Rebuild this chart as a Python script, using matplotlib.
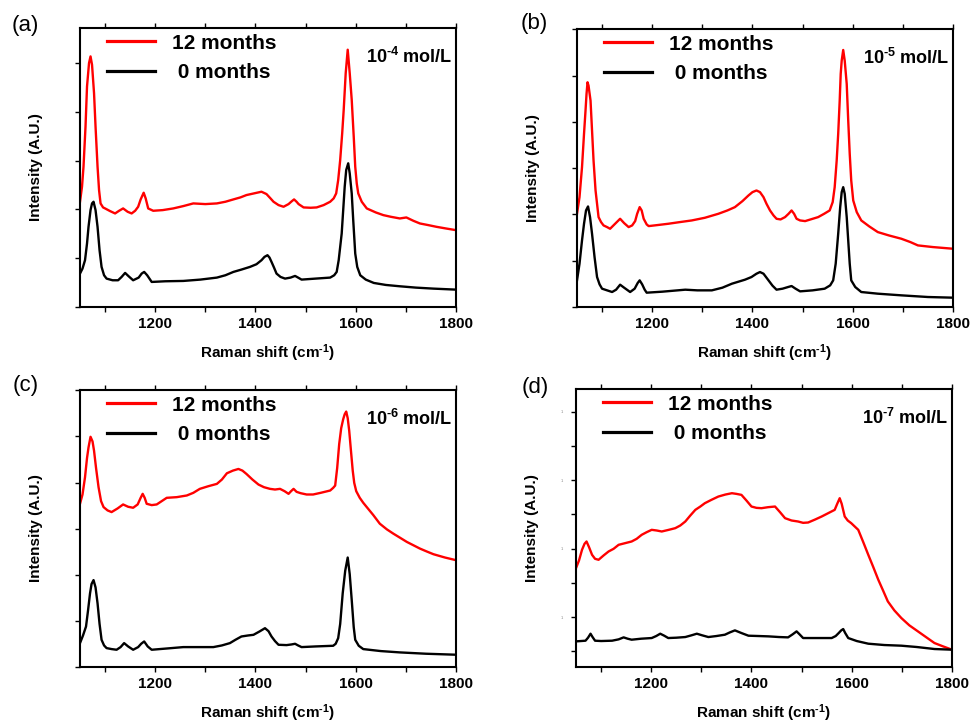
import matplotlib
matplotlib.use("Agg")
import matplotlib.pyplot as plt
from matplotlib.ticker import MultipleLocator, FixedLocator, NullFormatter, FixedFormatter
import numpy as np

plt.rcParams["font.family"] = ["Liberation Sans", "DejaVu Sans"]
plt.rcParams["mathtext.fontset"] = "custom"
plt.rcParams["mathtext.rm"] = "Liberation Sans"
plt.rcParams["mathtext.bf"] = "Liberation Sans:bold"
plt.rcParams["mathtext.default"] = "bf"

# ---- data: (Raman shift cm^-1, intensity A.U.) ----
a_12 = [(1050, 315), (1054, 360), (1057, 420), (1061, 540), (1064, 660), (1068, 730), (1071, 750),
        (1074, 725), (1078, 640), (1081, 540), (1085, 420), (1088, 350), (1091, 310), (1096, 298),
        (1100, 295), (1110, 287), (1120, 280), (1128, 288), (1136, 295), (1145, 285), (1153, 280),
        (1160, 288), (1166, 300), (1171, 322), (1177, 342), (1181, 325), (1186, 295), (1196, 288),
        (1215, 290), (1236, 295), (1256, 302), (1276, 310), (1300, 308), (1323, 310), (1340, 315),
        (1356, 322), (1370, 328), (1382, 335), (1397, 340), (1412, 345), (1422, 338), (1430, 325),
        (1436, 315), (1446, 305), (1456, 300), (1466, 308), (1472, 316), (1477, 322), (1482, 315),
        (1486, 308), (1496, 298), (1510, 297), (1522, 298), (1536, 305), (1549, 315), (1556, 325),
        (1561, 340), (1565, 380), (1569, 440), (1573, 520), (1576, 590), (1580, 700), (1584, 770),
        (1588, 700), (1592, 620), (1596, 510), (1599, 420), (1602, 370), (1605, 340), (1612, 315),
        (1622, 295), (1640, 283), (1655, 275), (1670, 270), (1688, 265), (1701, 268), (1715, 258),
        (1728, 250), (1745, 245), (1761, 240), (1780, 235), (1800, 230)]
a_0 = [(1050, 100), (1055, 115), (1060, 140), (1064, 190), (1067, 240), (1071, 290), (1074, 310),
       (1077, 315), (1081, 290), (1085, 240), (1089, 170), (1093, 120), (1098, 95), (1103, 85),
       (1115, 80), (1126, 80), (1133, 90), (1140, 102), (1147, 92), (1156, 80), (1167, 88),
       (1173, 100), (1178, 105), (1184, 95), (1193, 75), (1220, 77), (1256, 78), (1290, 82),
       (1323, 88), (1340, 95), (1356, 105), (1372, 112), (1389, 120), (1402, 128), (1412, 140),
       (1418, 150), (1424, 155), (1428, 148), (1432, 135), (1437, 118), (1442, 100), (1450, 90),
       (1459, 85), (1470, 88), (1479, 93), (1485, 88), (1492, 82), (1520, 85), (1549, 88),
       (1557, 95), (1562, 105), (1566, 140), (1569, 180), (1572, 220), (1575, 290), (1578, 360),
       (1581, 410), (1585, 430), (1588, 400), (1592, 340), (1595, 260), (1599, 160), (1603, 120),
       (1609, 95), (1620, 82), (1636, 72), (1660, 66), (1688, 62), (1720, 58), (1755, 55), (1800, 52)]

b_12 = [(1050, 280), (1055, 330), (1060, 420), (1064, 520), (1067, 590), (1069, 640), (1071, 675),
        (1073, 665), (1077, 620), (1080, 530), (1083, 440), (1087, 350), (1093, 270), (1098, 255),
        (1103, 245), (1110, 240), (1116, 235), (1126, 250), (1136, 265), (1144, 252), (1153, 240),
        (1160, 245), (1166, 258), (1170, 280), (1175, 300), (1179, 290), (1183, 265), (1189, 248),
        (1193, 243), (1210, 246), (1232, 250), (1255, 255), (1279, 260), (1305, 268), (1332, 280),
        (1350, 290), (1365, 300), (1380, 318), (1392, 335), (1400, 345), (1408, 350), (1415, 345),
        (1422, 330), (1428, 310), (1435, 290), (1442, 275), (1448, 265), (1456, 263), (1465, 270),
        (1472, 280), (1478, 290), (1483, 280), (1488, 265), (1495, 260), (1505, 258), (1518, 264),
        (1531, 270), (1543, 280), (1554, 290), (1560, 315), (1564, 360), (1568, 440), (1571, 520),
        (1574, 620), (1576, 700), (1578, 740), (1581, 772), (1584, 740), (1588, 670), (1591, 560),
        (1594, 460), (1597, 380), (1601, 320), (1608, 285), (1617, 260), (1633, 242), (1650, 225),
        (1672, 215), (1697, 205), (1715, 195), (1730, 185), (1760, 180), (1800, 175)]
b_0 = [(1050, 80), (1055, 130), (1060, 200), (1064, 250), (1068, 290), (1072, 302), (1076, 270),
       (1080, 220), (1085, 150), (1090, 90), (1095, 68), (1100, 55), (1110, 50), (1120, 45),
       (1128, 52), (1136, 67), (1144, 58), (1156, 45), (1165, 55), (1171, 72), (1175, 80),
       (1180, 68), (1185, 52), (1189, 43), (1220, 46), (1266, 52), (1290, 50), (1319, 50),
       (1340, 58), (1359, 70), (1372, 76), (1385, 82), (1398, 90), (1408, 100), (1415, 105),
       (1422, 100), (1432, 80), (1440, 64), (1448, 52), (1460, 55), (1471, 60), (1478, 63),
       (1486, 55), (1495, 47), (1520, 50), (1544, 55), (1555, 65), (1561, 80), (1566, 130),
       (1571, 220), (1575, 300), (1578, 345), (1581, 360), (1584, 340), (1588, 270), (1591, 200),
       (1594, 130), (1597, 80), (1605, 60), (1617, 45), (1650, 40), (1697, 35), (1750, 30), (1800, 28)]

c_12 = [(1050, 492), (1055, 520), (1060, 572), (1064, 630), (1067, 662), (1071, 694), (1075, 680),
        (1078, 652), (1082, 600), (1087, 542), (1092, 500), (1097, 482), (1105, 472), (1113, 467),
        (1125, 478), (1136, 490), (1146, 483), (1156, 480), (1165, 490), (1171, 510), (1175, 522),
        (1179, 510), (1183, 492), (1193, 488), (1203, 490), (1213, 500), (1223, 510), (1243, 512),
        (1263, 517), (1276, 525), (1289, 537), (1306, 545), (1323, 552), (1333, 565), (1343, 584),
        (1355, 592), (1366, 597), (1374, 592), (1382, 582), (1394, 565), (1406, 550), (1417, 542),
        (1429, 537), (1439, 535), (1449, 537), (1458, 530), (1466, 522), (1471, 530), (1476, 537),
        (1482, 528), (1490, 524), (1502, 520), (1515, 520), (1530, 525), (1549, 532), (1555, 540),
        (1559, 547), (1563, 600), (1567, 672), (1571, 720), (1575, 747), (1578, 762), (1581, 770),
        (1584, 750), (1587, 712), (1590, 660), (1594, 592), (1597, 555), (1601, 530), (1608, 510),
        (1615, 495), (1622, 482), (1635, 458), (1648, 432), (1662, 415), (1675, 402), (1688, 390),
        (1702, 377), (1715, 367), (1728, 357), (1742, 348), (1755, 340), (1778, 330), (1800, 322)]
c_0 = [(1050, 72), (1056, 95), (1062, 122), (1066, 170), (1070, 222), (1073, 250), (1077, 262),
       (1081, 240), (1085, 192), (1089, 130), (1093, 82), (1098, 65), (1103, 57), (1113, 54),
       (1123, 52), (1131, 60), (1138, 72), (1146, 62), (1156, 52), (1166, 60), (1172, 70),
       (1178, 77), (1185, 62), (1193, 52), (1225, 56), (1256, 60), (1285, 60), (1316, 60),
       (1333, 65), (1349, 72), (1360, 82), (1372, 92), (1385, 95), (1396, 97), (1408, 107),
       (1419, 117), (1426, 108), (1432, 92), (1439, 78), (1446, 67), (1462, 66), (1472, 68),
       (1479, 70), (1485, 65), (1492, 60), (1520, 62), (1555, 64), (1560, 70), (1565, 87),
       (1569, 130), (1574, 222), (1579, 290), (1584, 330), (1588, 280), (1592, 202), (1596, 120),
       (1599, 82), (1606, 64), (1615, 54), (1650, 48), (1688, 44), (1740, 40), (1800, 37)]

d_12 = [(1050, 297), (1056, 320), (1062, 352), (1067, 370), (1071, 377), (1076, 360), (1082, 337),
        (1088, 325), (1095, 322), (1105, 335), (1115, 347), (1125, 355), (1135, 367), (1148, 372),
        (1161, 377), (1171, 385), (1181, 397), (1191, 405), (1201, 412), (1211, 410), (1221, 407),
        (1235, 412), (1248, 417), (1258, 425), (1268, 437), (1278, 455), (1288, 472), (1298, 482),
        (1307, 492), (1320, 502), (1334, 512), (1348, 518), (1361, 522), (1370, 520), (1380, 517),
        (1390, 500), (1400, 482), (1410, 478), (1420, 477), (1433, 480), (1447, 482), (1457, 465),
        (1467, 447), (1480, 440), (1493, 437), (1503, 433), (1513, 434), (1527, 443), (1540, 452),
        (1553, 462), (1566, 472), (1571, 490), (1576, 507), (1580, 490), (1586, 452), (1592, 440),
        (1599, 432), (1606, 422), (1613, 412), (1623, 375), (1633, 337), (1643, 300), (1653, 262),
        (1663, 228), (1672, 197), (1685, 170), (1699, 147), (1715, 125), (1732, 107), (1748, 90),
        (1765, 72), (1782, 62), (1800, 52)]
d_0 = [(1050, 77), (1060, 78), (1069, 79), (1074, 88), (1079, 100), (1083, 90), (1088, 79),
       (1100, 78), (1122, 79), (1135, 83), (1145, 89), (1153, 85), (1161, 82), (1180, 85),
       (1201, 87), (1210, 93), (1218, 100), (1226, 94), (1234, 87), (1250, 88), (1268, 90),
       (1280, 95), (1291, 100), (1302, 95), (1314, 90), (1330, 93), (1347, 97), (1357, 104),
       (1367, 110), (1380, 102), (1394, 94), (1415, 93), (1434, 92), (1455, 90), (1473, 89),
       (1482, 98), (1490, 107), (1496, 98), (1503, 87), (1530, 87), (1560, 87), (1568, 93),
       (1574, 102), (1579, 110), (1583, 114), (1587, 102), (1593, 87), (1610, 78), (1633, 70),
       (1665, 66), (1699, 64), (1730, 60), (1765, 54), (1800, 52)]

panel_tags = ["(a)", "(b)", "(c)", "(d)"]
concentrations = ["10$^{\u20104}$ mol/L", "10$^{\u20105}$ mol/L",
                  "10$^{\u20106}$ mol/L", "10$^{\u20107}$ mol/L"]
series_labels = ["12 months", " 0 months"]

W, H = 971, 723
fig = plt.figure(figsize=(W / 100, H / 100), dpi=100)

# axes boxes in pixels: left, top, right, bottom
boxes = [(80, 28, 456, 307), (577, 29, 953, 307), (80, 390, 456, 667), (576, 389, 952, 667)]
tag_pos = [(12, 25), (521, 24), (13, 385), (522, 387)]
# y tick placement (start, step) per panel -- tick labels are blank in the source
ytick_spec = [(0, 146), (0, 139), (0, 139), (47, 102.8)]


def draw_panel(i, red, black):
    l, t, r, b = boxes[i]
    w, h = r - l, b - t
    ax = fig.add_axes([l / W, 1 - b / H, w / W, h / H])
    rx, ry = zip(*red)
    kx, ky = zip(*black)
    ax.plot(rx, ry, color="#ff0000", lw=1.7, label=series_labels[0], solid_joinstyle="round")
    ax.plot(kx, ky, color="black", lw=1.7, label=series_labels[1], solid_joinstyle="round")
    ax.set_xlim(1050, 1800)
    ax.set_ylim(0, 835)

    ax.xaxis.set_major_locator(MultipleLocator(200))
    ax.xaxis.set_minor_locator(MultipleLocator(100))
    ax.tick_params(axis="x", which="both", direction="out", length=3.5, width=1.0,
                   top=True, bottom=True, labelsize=11, pad=4)
    for lab in ax.get_xticklabels():
        lab.set_fontweight("bold")

    y0, step = ytick_spec[i]
    yt = np.arange(y0, 835, step)
    ax.yaxis.set_major_locator(FixedLocator(yt))
    if i == 3:
        ax.yaxis.set_major_formatter(FixedFormatter(["1" if k % 2 else "" for k in range(len(yt))]))
        ax.tick_params(axis="y", labelsize=3, labelcolor="#888888", pad=6)
    else:
        ax.yaxis.set_major_formatter(NullFormatter())
    ax.tick_params(axis="y", direction="out", length=3.5, width=1.0, right=False)

    for s in ax.spines.values():
        s.set_linewidth(1.5)

    ax.set_xlabel("Raman shift (cm$^{\u20101}$)", fontsize=11, fontweight="bold")
    ax.xaxis.set_label_coords(0.5, -46 / h)
    ax.xaxis.label.set_va("center")
    ax.set_ylabel("Intensity (A.U.)", fontsize=11, fontweight="bold")
    ax.yaxis.set_label_coords(-44 / w, 0.5)
    ax.yaxis.label.set_va("center")

    leg = ax.legend(loc="upper left", bbox_to_anchor=(0.072, 0.98), frameon=False,
                    prop=dict(weight="bold", size=15), handlelength=2.3, handletextpad=0.8,
                    labelspacing=0.5, borderpad=0, borderaxespad=0)
    for hl in leg.get_lines():
        hl.set_linewidth(2.3)

    ax.text(0.99, 0.895, concentrations[i], transform=ax.transAxes, ha="right", va="center",
            fontsize=13, fontweight="bold")
    fig.text(tag_pos[i][0] / W, 1 - tag_pos[i][1] / H, panel_tags[i], ha="left", va="center",
             fontsize=16)
    return ax


for i, (red, black) in enumerate([(a_12, a_0), (b_12, b_0), (c_12, c_0), (d_12, d_0)]):
    draw_panel(i, red, black)

fig.savefig("out.png", dpi=100)
